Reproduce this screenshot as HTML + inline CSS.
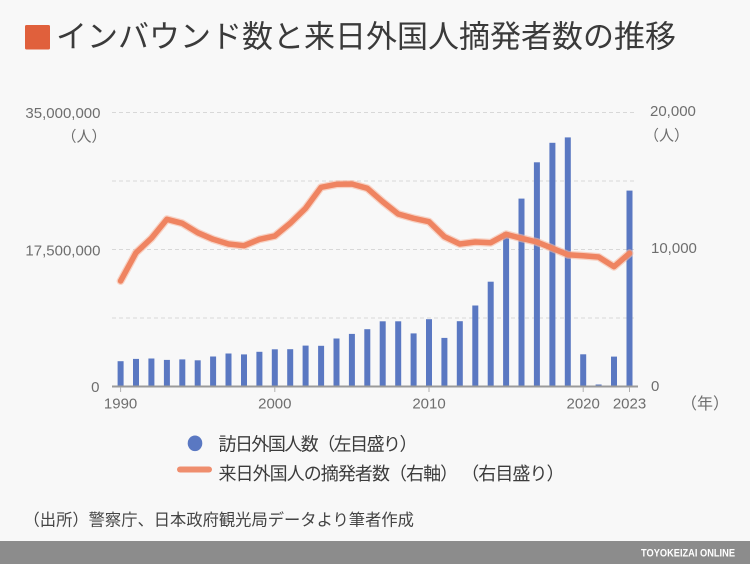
<!DOCTYPE html>
<html>
<head>
<meta charset="utf-8">
<style>
html,body{margin:0;padding:0;background:#f8f8f8;}
body{width:750px;height:564px;overflow:hidden;}
svg{display:block;}
.jp{font-family:"Liberation Sans","Noto Sans CJK JP",sans-serif;}
.num{font-family:"Liberation Sans",sans-serif;font-size:15px;fill:#6e6e6e;}
</style>
</head>
<body>
<svg width="750" height="564" viewBox="0 0 750 564" xmlns="http://www.w3.org/2000/svg">
  <rect x="0" y="0" width="750" height="564" fill="#f8f8f8"/>

  <!-- Title -->
  <rect x="25" y="25" width="25" height="24.5" rx="1.5" fill="#e0603c"/>
  <text x="56" y="47.6" class="jp" font-size="31" fill="#3a3a3a" textLength="620" lengthAdjust="spacing">インバウンド数と来日外国人摘発者数の推移</text>

  <!-- Gridlines -->
  <g stroke="#d8d8d8" stroke-width="1" stroke-dasharray="4 3">
    <line x1="112" y1="112.5" x2="637" y2="112.5"/>
    <line x1="112" y1="181" x2="637" y2="181"/>
    <line x1="112" y1="249.5" x2="637" y2="249.5"/>
    <line x1="112" y1="318" x2="637" y2="318"/>
  </g>

  <!-- Bars -->
  <g fill="#5a78c2">
    <rect x="117.6" y="361.2" width="6" height="25.3"/>
    <rect x="133.0" y="358.9" width="6" height="27.6"/>
    <rect x="148.4" y="358.5" width="6" height="28.0"/>
    <rect x="163.9" y="359.9" width="6" height="26.6"/>
    <rect x="179.3" y="359.4" width="6" height="27.1"/>
    <rect x="194.7" y="360.3" width="6" height="26.2"/>
    <rect x="210.1" y="356.5" width="6" height="30.0"/>
    <rect x="225.5" y="353.5" width="6" height="33.0"/>
    <rect x="241.0" y="354.4" width="6" height="32.1"/>
    <rect x="256.4" y="351.8" width="6" height="34.7"/>
    <rect x="271.8" y="349.3" width="6" height="37.2"/>
    <rect x="287.2" y="349.2" width="6" height="37.3"/>
    <rect x="302.6" y="345.6" width="6" height="40.9"/>
    <rect x="318.1" y="345.8" width="6" height="40.7"/>
    <rect x="333.5" y="338.5" width="6" height="48.0"/>
    <rect x="348.9" y="333.9" width="6" height="52.6"/>
    <rect x="364.3" y="329.2" width="6" height="57.3"/>
    <rect x="379.7" y="321.3" width="6" height="65.2"/>
    <rect x="395.2" y="321.3" width="6" height="65.2"/>
    <rect x="410.6" y="333.4" width="6" height="53.1"/>
    <rect x="426.0" y="319.2" width="6" height="67.3"/>
    <rect x="441.4" y="337.9" width="6" height="48.6"/>
    <rect x="456.8" y="321.2" width="6" height="65.3"/>
    <rect x="472.3" y="305.5" width="6" height="81.0"/>
    <rect x="487.7" y="281.7" width="6" height="104.8"/>
    <rect x="503.1" y="232.3" width="6" height="154.2"/>
    <rect x="518.5" y="198.6" width="6" height="187.9"/>
    <rect x="533.9" y="162.3" width="6" height="224.2"/>
    <rect x="549.4" y="142.8" width="6" height="243.7"/>
    <rect x="564.8" y="137.4" width="6" height="249.1"/>
    <rect x="580.2" y="354.3" width="6" height="32.2"/>
    <rect x="595.6" y="384.5" width="6" height="2.0"/>
    <rect x="611.0" y="356.6" width="6" height="29.9"/>
    <rect x="626.5" y="190.6" width="6" height="195.9"/>
  </g>

  <!-- Line series -->
  <polyline fill="none" stroke="#f6b9a2" stroke-opacity="0.6" stroke-width="8" stroke-linejoin="round" stroke-linecap="round"
    points="120.6,281 136.0,252.7 151.4,238.3 166.9,219.3 182.3,223.3 197.7,232.7 213.1,239.3 228.5,244 244.0,245.7 259.4,239.3 274.8,236 290.2,223.3 305.6,208.3 321.1,187.3 336.5,184.3 351.9,184 367.3,188.3 382.7,201.7 398.2,214 413.6,218.3 429.0,221.7 444.4,236.7 459.8,244 475.3,242 490.7,242.7 506.1,234.3 521.5,238.3 536.9,242 552.4,248.3 567.8,254.7 583.2,255.7 598.6,257 614.0,266.7 629.5,253.3"/>
  <polyline fill="none" stroke="#ef8461" stroke-width="5.5" stroke-linejoin="round" stroke-linecap="round"
    points="120.6,281 136.0,252.7 151.4,238.3 166.9,219.3 182.3,223.3 197.7,232.7 213.1,239.3 228.5,244 244.0,245.7 259.4,239.3 274.8,236 290.2,223.3 305.6,208.3 321.1,187.3 336.5,184.3 351.9,184 367.3,188.3 382.7,201.7 398.2,214 413.6,218.3 429.0,221.7 444.4,236.7 459.8,244 475.3,242 490.7,242.7 506.1,234.3 521.5,238.3 536.9,242 552.4,248.3 567.8,254.7 583.2,255.7 598.6,257 614.0,266.7 629.5,253.3"/>

  <!-- Axis line & ticks -->
  <line x1="112" y1="386.5" x2="638" y2="386.5" stroke="#9a9a9a" stroke-width="2"/>
  <g stroke="#b0b0b0" stroke-width="1">
    <line x1="120.6" y1="387" x2="120.6" y2="392"/>
    <line x1="274.8" y1="387" x2="274.8" y2="392"/>
    <line x1="429.0" y1="387" x2="429.0" y2="392"/>
    <line x1="583.2" y1="387" x2="583.2" y2="392"/>
    <line x1="629.5" y1="387" x2="629.5" y2="392"/>
  </g>

  <!-- Left axis labels -->
  <text x="100.5" y="118" class="num" text-anchor="end">35,000,000</text>
  <text x="61.5" y="141.7" class="jp" font-size="15" fill="#6e6e6e">（人）</text>
  <text x="100.5" y="255.4" class="num" text-anchor="end">17,500,000</text>
  <text x="99.5" y="392" class="num" text-anchor="end">0</text>

  <!-- Right axis labels -->
  <text x="650" y="115.8" class="num">20,000</text>
  <text x="644" y="140.7" class="jp" font-size="15" fill="#6e6e6e">（人）</text>
  <text x="651" y="252.8" class="num">10,000</text>
  <text x="651" y="390.8" class="num">0</text>

  <!-- X axis labels -->
  <text x="120.6" y="408.7" class="num" text-anchor="middle">1990</text>
  <text x="274.8" y="408.7" class="num" text-anchor="middle">2000</text>
  <text x="429.0" y="408.7" class="num" text-anchor="middle">2010</text>
  <text x="583.2" y="408.7" class="num" text-anchor="middle">2020</text>
  <text x="629.5" y="408.7" class="num" text-anchor="middle">2023</text>
  <text x="681" y="409" class="jp" font-size="16" fill="#6e6e6e">（年）</text>

  <!-- Legend -->
  <ellipse cx="195" cy="443.3" rx="7.3" ry="7.8" fill="#5a78c2"/>
  <text x="218.5" y="450.3" class="jp" font-size="18" fill="#3c3c3c" textLength="199" lengthAdjust="spacing">訪日外国人数（左目盛り）</text>
  <line x1="180" y1="469.5" x2="209" y2="469.5" stroke="#ef8e6e" stroke-width="6" stroke-linecap="round"/>
  <text x="218.5" y="480" class="jp" font-size="18" fill="#3c3c3c" textLength="346" lengthAdjust="spacing">来日外国人の摘発者数（右軸） （右目盛り）</text>

  <!-- Source -->
  <text x="23.5" y="525.7" class="jp" font-size="16.3" fill="#444444">（出所）警察庁、日本政府観光局データより筆者作成</text>

  <!-- Footer bar -->
  <rect x="0" y="541" width="750" height="23" fill="#8c8c8c"/>
  <text x="641" y="556.4" font-family="Liberation Sans, sans-serif" font-weight="bold" font-size="11" fill="#ffffff" textLength="94" lengthAdjust="spacingAndGlyphs">TOYOKEIZAI ONLINE</text>
</svg>
</body>
</html>
